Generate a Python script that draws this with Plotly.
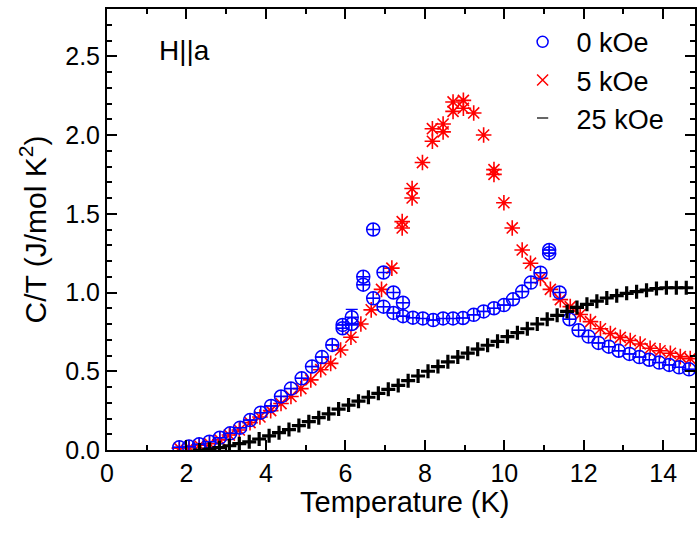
import plotly.graph_objects as go

# Specific heat C/T vs temperature, field along a
t_0koe = [1.82, 2.06, 2.32, 2.58, 2.84, 3.10, 3.35, 3.60, 3.87, 4.13, 4.38, 4.63, 4.90,
          5.16, 5.41, 5.67, 5.93, 5.93, 6.16, 6.16, 6.45, 6.45, 6.70, 6.70, 6.96, 6.96,
          7.21, 7.21, 7.45, 7.45, 7.70, 7.95, 8.21, 8.46, 8.71, 8.96, 9.23, 9.48, 9.74,
          9.99, 10.22, 10.45, 10.67, 10.91, 11.13, 11.13, 11.39, 11.64, 11.87, 12.12,
          12.37, 12.63, 12.88, 13.15, 13.40, 13.65, 13.90, 14.15, 14.40, 14.65]
ct_0koe = [0.017, 0.022, 0.036, 0.053, 0.078, 0.106, 0.142, 0.19, 0.237, 0.28, 0.34, 0.39,
           0.455, 0.53, 0.59, 0.667, 0.773, 0.794, 0.843, 0.80, 1.05, 1.10, 1.40, 0.963,
           1.127, 0.91, 1.00, 0.87, 0.935, 0.85, 0.84, 0.835, 0.825, 0.835, 0.835, 0.838,
           0.858, 0.88, 0.90, 0.92, 0.957, 1.006, 1.063, 1.126, 1.25, 1.27, 1.00, 0.83,
           0.76, 0.72, 0.68, 0.656, 0.63, 0.61, 0.59, 0.573, 0.555, 0.54, 0.525, 0.512]
err_0koe = [0.0] * 18 + [0.05] + [0.0] * 41

t_5koe = [1.82, 2.07, 2.32, 2.58, 2.84, 3.08, 3.33, 3.60, 3.85, 4.12, 4.38, 4.63, 4.88,
          5.13, 5.38, 5.63, 5.88, 6.14, 6.39, 6.65, 6.91, 7.17, 7.43, 7.43, 7.68, 7.68,
          7.94, 8.19, 8.19, 8.46, 8.46, 8.71, 8.71, 8.97, 8.97, 9.23, 9.48, 9.74, 9.74,
          9.99, 10.20, 10.45, 10.66, 10.91, 11.16, 11.41, 11.66, 11.91, 12.17, 12.42,
          12.67, 12.92, 13.17, 13.42, 13.67, 13.92, 14.18, 14.43, 14.68]
ct_5koe = [0.012, 0.015, 0.03, 0.04, 0.064, 0.095, 0.127, 0.174, 0.21, 0.25, 0.295, 0.34,
           0.39, 0.445, 0.51, 0.55, 0.635, 0.716, 0.80, 0.89, 1.02, 1.155, 1.45, 1.41,
           1.66, 1.60, 1.825, 2.04, 1.96, 2.07, 2.02, 2.21, 2.15, 2.22, 2.17, 2.14, 2.00,
           1.78, 1.75, 1.57, 1.41, 1.27, 1.186, 1.09, 1.02, 0.955, 0.91, 0.86, 0.815,
           0.77, 0.74, 0.715, 0.695, 0.673, 0.646, 0.63, 0.614, 0.593, 0.58]

t_25koe = [2.33, 2.58, 2.83, 3.08, 3.33, 3.58, 3.83, 4.08, 4.33, 4.58, 4.83, 5.08, 5.33,
           5.58, 5.83, 6.08, 6.33, 6.58, 6.83, 7.08, 7.33, 7.58, 7.83, 8.08, 8.33, 8.58,
           8.83, 9.08, 9.33, 9.58, 9.83, 10.08, 10.33, 10.58, 10.83, 11.08, 11.33, 11.58,
           11.83, 12.08, 12.33, 12.58, 12.83, 13.08, 13.33, 13.58, 13.83, 14.08, 14.33, 14.58]
ct_25koe = [0.0, 0.005, 0.015, 0.027, 0.04, 0.052, 0.07, 0.09, 0.11, 0.13, 0.155, 0.18,
            0.205, 0.23, 0.26, 0.285, 0.31, 0.335, 0.36, 0.385, 0.41, 0.44, 0.47, 0.50,
            0.53, 0.56, 0.59, 0.615, 0.64, 0.665, 0.69, 0.72, 0.745, 0.77, 0.80, 0.83,
            0.855, 0.88, 0.905, 0.925, 0.945, 0.965, 0.98, 0.995, 1.005, 1.015, 1.025,
            1.03, 1.03, 1.03]

labels = ["0 kOe", "5 kOe", "25 kOe"]
x_ticks = [0, 2, 4, 6, 8, 10, 12, 14]
y_ticks = [0.0, 0.5, 1.0, 1.5, 2.0, 2.5]

FONT = "Liberation Sans, Arial, sans-serif"
BLUE, RED, BLACK = "#0000FF", "#FF0000", "#000000"

fig = go.Figure()

# data markers (legend handled by separate entries below)
fig.add_trace(go.Scatter(
    x=t_5koe, y=ct_5koe, mode="markers", showlegend=False,
    marker=dict(symbol="asterisk-open", size=13, color=RED, line=dict(color=RED, width=1.6)),
))
fig.add_trace(go.Scatter(
    x=t_0koe, y=ct_0koe, mode="markers", showlegend=False,
    error_y=dict(type="data", array=err_0koe, color=BLUE, thickness=1.2, width=6),
    marker=dict(symbol="circle-cross-open", size=13, color=BLUE, line=dict(color=BLUE, width=1.5)),
))
fig.add_trace(go.Scatter(
    x=t_25koe, y=ct_25koe, mode="markers", showlegend=False,
    marker=dict(symbol="cross-thin-open", size=10, color=BLACK, line=dict(color=BLACK, width=3.2)),
))

# legend entries
legend_symbols = [("circle-open", BLUE, 11), ("x-thin-open", RED, 11), ("line-ew-open", "#333333", 8)]
for name, (sym, col, sz) in zip(labels, legend_symbols):
    fig.add_trace(go.Scatter(
        x=[None], y=[None], mode="markers", name=name,
        marker=dict(symbol=sym, size=sz, color=col, line=dict(color=col, width=1.5)),
    ))

axis_common = dict(
    showgrid=False, zeroline=False, showline=True, linecolor="black", linewidth=2,
    ticks="inside", ticklen=10, tickwidth=2, tickcolor="black", mirror="ticks",
    tickfont=dict(family=FONT, size=25, color="black"),
)

fig.update_xaxes(
    range=[0, 14.8], tickvals=x_ticks, ticktext=[str(v) for v in x_ticks],
    minor=dict(dtick=1, ticks="inside", ticklen=5, tickwidth=2, tickcolor="black"),
    **axis_common,
)
fig.update_yaxes(
    range=[0, 2.8], tickvals=y_ticks, ticktext=[f"{v:.1f}" for v in y_ticks],
    minor=dict(dtick=0.1, ticks="inside", ticklen=5, tickwidth=2, tickcolor="black"),
    title=dict(text="C/T (J/mol K<sup>2</sup>)", font=dict(family=FONT, size=30, color="black"), standoff=10),
    **axis_common,
)

# x-axis title
fig.add_annotation(
    text="Temperature (K)", x=0.506, y=-0.119, xref="paper", yref="paper",
    xanchor="center", yanchor="middle", showarrow=False,
    font=dict(family=FONT, size=29, color="black"),
)

fig.add_annotation(
    text="H||a", x=0.085, y=0.905, xref="paper", yref="paper", xanchor="left", yanchor="middle",
    showarrow=False, font=dict(family=FONT, size=28, color="black"),
)

fig.update_layout(
    width=697, height=536,
    margin=dict(l=107, r=0, t=9, b=86),
    paper_bgcolor="white", plot_bgcolor="white",
    font=dict(family=FONT, color="black"),
    legend=dict(
        x=0.683, y=0.98, xanchor="left", yanchor="top", bgcolor="rgba(0,0,0,0)",
        font=dict(family=FONT, size=27, color="black"), itemwidth=58, borderwidth=0,
    ),
)

fig.write_html("out.html")
